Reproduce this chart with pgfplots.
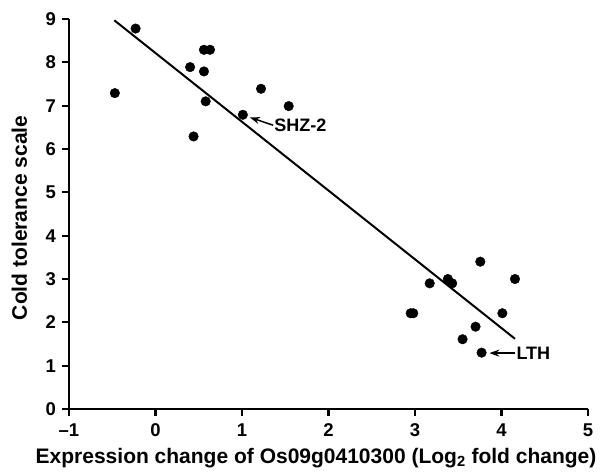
\documentclass[border=0pt]{standalone}
\usepackage{fontspec}
\setmainfont{Liberation Sans}
\usepackage{pgfplots}
\pgfplotsset{compat=1.18}
\usetikzlibrary{arrows.meta}
\begin{document}
\begin{tikzpicture}
\begin{axis}[
  scale only axis,
  width=519pt, height=390pt,
  xmin=-1, xmax=5, ymin=0, ymax=9,
  axis lines*=left,
  axis line style={line width=2.2pt},
  xtick={-1,0,...,5},
  xticklabels={\textendash1,0,1,2,3,4,5},
  ytick={0,1,...,9},
  tick align=outside,
  major tick length=6.5pt,
  tick style={line width=2.2pt, black},
  tick label style={font=\fontsize{18.5}{19}\selectfont\bfseries},
  xticklabel style={yshift=-5pt},
  yticklabel style={xshift=-3pt},
  /pgf/number format/assume math mode=true,
  xlabel={Expression change of Os09g0410300 (Log\textsubscript{2} fold change)},
  ylabel={Cold tolerance scale},
  label style={font=\fontsize{21}{22}\selectfont\bfseries},
  xlabel style={at={(axis description cs:0.476,0)}, anchor=base, yshift=-54pt},
  ylabel style={at={(axis description cs:-0.081,0.49)}, anchor=base},
  clip=false,
]
% samples
\addplot[only marks, mark=*, mark size=4.8pt, black] coordinates {
  (-0.47,7.29) (-0.23,8.78) (0.40,7.89) (0.44,6.29) (0.56,8.29)
  (0.63,8.29) (0.56,7.79) (0.58,7.10) (1.01,6.79) (1.22,7.39)
  (1.54,6.99)
  (3.755,3.40) (4.156,3.00) (3.17,2.90) (3.38,3.00) (3.43,2.90)
  (2.95,2.21) (2.98,2.21) (4.01,2.21) (3.70,1.90) (3.55,1.61)
  (3.77,1.30)
};
% fit line
\addplot[black, line width=2pt, no marks] coordinates {(-0.476,8.97) (4.156,1.62)};
% labels
\draw[-{Stealth[length=10pt,width=7pt]}, line width=1.5pt] (axis cs:1.36,6.55) -- (axis cs:1.09,6.73);
\node[anchor=west, inner sep=1pt, font=\fontsize{18}{18}\selectfont\bfseries] at (axis cs:1.36,6.55) {SHZ-2};
\draw[-{Stealth[length=10pt,width=7pt]}, line width=1.5pt] (axis cs:4.16,1.29) -- (axis cs:3.86,1.29);
\node[anchor=west, inner sep=1pt, font=\fontsize{18}{18}\selectfont\bfseries] at (axis cs:4.16,1.29) {LTH};
\end{axis}
\pgfresetboundingbox
\path (current axis.south west) ++(-69pt,-66pt) rectangle ++(613pt,475pt);
\end{tikzpicture}
\end{document}
